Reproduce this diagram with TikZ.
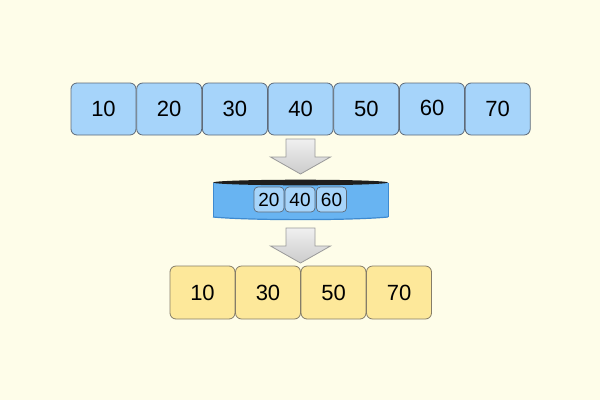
\documentclass[tikz,border=0pt]{standalone}
\usepackage{fontspec}
\setmainfont{Liberation Sans}
\usetikzlibrary{calc}
\begin{document}
\begin{tikzpicture}[x=1pt,y=-1pt]
\definecolor{bg}{HTML}{FEFDE9}
\definecolor{topfill}{HTML}{A6D4FA}
\definecolor{boxline}{HTML}{5E6A78}
\definecolor{botfill}{HTML}{FDE89A}
\definecolor{botline}{HTML}{857D68}
\definecolor{discblue}{HTML}{68B4F2}
\definecolor{discedge}{HTML}{3E8AD0}
\definecolor{discdark}{HTML}{1E1E1E}
\definecolor{arrline}{HTML}{9A9A9A}
\tikzset{
  topbox/.style={draw=boxline, line width=0.8pt, fill=topfill, rounded corners=6pt,
    minimum width=65pt, minimum height=52pt, inner sep=0pt,
    font=\fontsize{22}{22}\selectfont},
  botbox/.style={draw=botline, line width=0.8pt, fill=botfill, rounded corners=6pt,
    minimum width=65pt, minimum height=53pt, inner sep=0pt,
    font=\fontsize{22}{22}\selectfont},
  smallbox/.style={draw=boxline, line width=0.7pt, fill=topfill, rounded corners=4pt,
    minimum width=30pt, minimum height=25pt, inner sep=0pt,
    font=\fontsize{19}{19}\selectfont},
  blockarrow/.style={draw=arrline, line width=0.8pt, top color=white!94!black, bottom color=white!80!black}
}
\fill[bg] (0,0) rectangle (600,400);
\useasboundingbox (0,0) rectangle (600,400);
% top row
\foreach \v/\dy [count=\i] in {10/-1.5,20/-1,30/-1,40/0,50/-1,60/2,70/0}{
  \node[topbox] (t\i) at ({103.5+65.7*(\i-1)},109) {\raisebox{\dy pt}{\v}};
}
% arrow 1
\coordinate (a1) at (300.5,139);
\draw[blockarrow] ($(a1)+(-14.5,0)$) -- ($(a1)+(14.5,0)$) -- ($(a1)+(14.5,18)$) -- ($(a1)+(30,18)$)
  -- ($(a1)+(0,35)$) -- ($(a1)+(-30,18)$) -- ($(a1)+(-14.5,18)$) -- cycle;
% disc
\coordinate (disc) at (300.5,200);
\fill[discblue] (213,182.5) -- (213,217) .. controls (250,220.5) and (351,220.5) .. (388,217) -- (388,182.5) -- cycle;
\draw[discedge, line width=0.6pt] (213,183) -- (213,217);
\draw[discedge, line width=0.6pt] (388,183) -- (388,217);
\draw[discedge, line width=1.2pt] (213,217) .. controls (250,220.5) and (351,220.5) .. (388,217);
\fill[discdark] (300.5,182.5) ellipse [x radius=87.5, y radius=2.8];
\foreach \v/\x [count=\i] in {20/269,40/300,60/331.5}{
  \node[smallbox] (s\i) at (\x,199.5) {\v};
}
% arrow 2
\coordinate (a2) at (300.5,228);
\draw[blockarrow] ($(a2)+(-14.5,0)$) -- ($(a2)+(14.5,0)$) -- ($(a2)+(14.5,18)$) -- ($(a2)+(30,18)$)
  -- ($(a2)+(0,35)$) -- ($(a2)+(-30,18)$) -- ($(a2)+(-14.5,18)$) -- cycle;
% bottom row
\foreach \v [count=\i] in {10,30,50,70}{
  \node[botbox] (b\i) at ({202.5+65.5*(\i-1)},292.5) {\v};
}
\end{tikzpicture}
\end{document}
